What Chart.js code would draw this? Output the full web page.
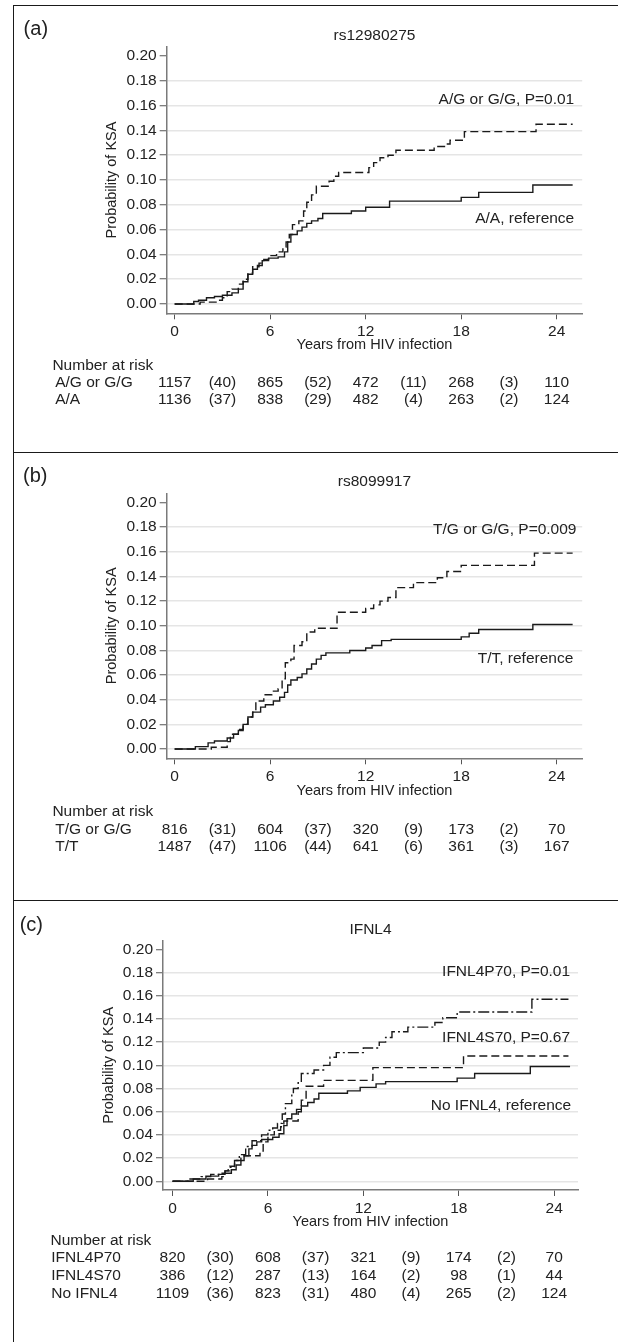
<!DOCTYPE html>
<html>
<head>
<meta charset="utf-8">
<title>Probability of KSA by genotype</title>
<script src="https://cdn.jsdelivr.net/npm/chart.js@4.4.1/dist/chart.umd.min.js"></script>
<style>
  html, body { margin: 0; padding: 0; background: #fff; }
  #page { position: relative; width: 618px; height: 1342px; overflow: hidden; }
  #page canvas { position: absolute; left: 0; }
  .rule { position: absolute; background: #1a1a1a; }
</style>
</head>
<body>
<div id="page">
  <canvas id="panelA" width="618" height="447" style="top:5px"></canvas>
  <canvas id="panelB" width="618" height="448" style="top:452px"></canvas>
  <canvas id="panelC" width="618" height="442" style="top:900px"></canvas>
  <div class="rule" style="left:13px;top:5px;width:1px;height:1337px"></div>
  <div class="rule" style="left:13px;top:5px;width:605px;height:1px"></div>
  <div class="rule" style="left:13px;top:452px;width:605px;height:1px"></div>
  <div class="rule" style="left:13px;top:900px;width:605px;height:1px"></div>
</div>
<script>
// Ejes comunes
var xTicks = [0, 6, 12, 18, 24];
var yTicks = [0, 0.02, 0.04, 0.06, 0.08, 0.10, 0.12, 0.14, 0.16, 0.18, 0.20];
var riskYears = [0, 6, 12, 18, 24];
var eventYears = [3, 9, 15, 21];

// (a) rs12980275 - curvas (tiempo en anos, probabilidad)
var aRefT = [0, 1.2, 1.5, 2.0, 2.5, 3.0, 3.6, 4.0, 4.3, 4.6, 4.9, 5.2, 5.5, 5.9, 6.5, 6.9, 7.1, 7.3, 7.7, 8.0, 8.3, 8.6, 9.0, 9.3, 11.1, 12.0, 13.5, 18.0, 19.1, 22.5, 25.0];
var aRefP = [0, .002, .003, .005, .006, .007, .009, .012, .018, .024, .028, .031, .035, .037, .038, .042, .050, .056, .059, .062, .065, .067, .069, .073, .075, .078, .083, .086, .090, .096, .096];
var aAltT = [0, 1.6, 2.6, 3.0, 3.3, 3.6, 4.0, 4.3, 4.6, 4.9, 5.3, 5.6, 5.9, 6.4, 6.8, 7.0, 7.2, 7.4, 7.8, 8.1, 8.3, 8.6, 8.9, 9.7, 10.0, 10.3, 12.2, 12.5, 12.9, 13.4, 13.9, 16.3, 17.0, 17.3, 18.2, 22.7, 25.0];
var aAltP = [0, .0015, .003, .005, .010, .012, .016, .020, .025, .030, .033, .036, .039, .042, .046, .050, .056, .064, .067, .075, .082, .088, .095, .099, .103, .106, .110, .114, .118, .120, .124, .127, .129, .132, .139, .145, .145];
var aAltRisk = [1157, 865, 472, 268, 110];
var aAltEvents = [40, 52, 11, 3];
var aRefRisk = [1136, 838, 482, 263, 124];
var aRefEvents = [37, 29, 4, 2];

// (b) rs8099917
var bRefT = [0, 1.3, 2.1, 2.5, 3.3, 3.7, 4.0, 4.3, 4.6, 4.9, 5.4, 5.7, 6.2, 6.6, 6.9, 7.1, 7.3, 7.7, 8.0, 8.3, 8.6, 8.9, 9.2, 9.5, 11.0, 12.0, 12.4, 13.0, 13.6, 18.0, 18.5, 19.1, 22.5, 25.0];
var bRefP = [0, .002, .005, .0065, .009, .012, .015, .020, .026, .030, .034, .036, .039, .042, .046, .052, .056, .058, .061, .065, .069, .073, .076, .078, .080, .082, .084, .088, .089, .091, .094, .097, .101, .101];
var bAltT = [0, 2.3, 3.3, 3.5, 4.0, 4.3, 4.6, 4.9, 5.1, 5.6, 6.1, 6.5, 6.75, 6.95, 7.3, 7.5, 8.0, 8.3, 8.8, 10.2, 12.0, 12.5, 12.9, 13.4, 13.9, 15.0, 16.5, 17.1, 18.0, 22.6, 25.0];
var bAltP = [0, .0015, .006, .012, .016, .020, .026, .030, .039, .044, .047, .049, .057, .070, .073, .084, .087, .095, .098, .111, .114, .117, .120, .123, .131, .135, .139, .144, .149, .159, .159];
var bAltRisk = [816, 604, 320, 173, 70];
var bAltEvents = [31, 37, 9, 2];
var bRefRisk = [1487, 1106, 641, 361, 167];
var bRefEvents = [47, 44, 6, 3];

// (c) IFNL4
var cP70T = [0, 1.1, 1.8, 2.4, 3.0, 3.3, 3.5, 3.9, 4.2, 4.6, 5.0, 5.6, 6.0, 6.3, 6.6, 6.9, 7.1, 7.5, 7.6, 7.9, 8.1, 8.9, 9.5, 9.9, 10.3, 12.0, 13.0, 13.4, 13.8, 14.8, 16.5, 17.0, 17.9, 22.6, 24.9];
var cP70P = [0, .002, .004, .006, .007, .009, .012, .018, .023, .030, .035, .040, .044, .046, .050, .058, .067, .075, .080, .085, .093, .096, .100, .107, .111, .115, .120, .124, .129, .133, .137, .141, .146, .157, .157];
var cS70T = [0, 2.2, 3.1, 3.3, 3.6, 3.9, 4.3, 4.5, 5.5, 5.7, 6.0, 6.4, 6.8, 7.0, 7.9, 8.1, 8.4, 9.5, 12.6, 18.3, 24.9];
var cS70P = [0, .002, .004, .009, .013, .018, .020, .022, .026, .034, .040, .044, .047, .052, .060, .070, .082, .087, .098, .108, .108];
var cRefT = [0, 1.3, 2.1, 2.9, 3.3, 3.7, 4.0, 4.3, 4.5, 4.8, 5.0, 5.3, 5.6, 6.3, 6.7, 7.0, 7.2, 7.5, 7.8, 8.1, 8.5, 8.9, 9.2, 11.0, 11.8, 12.8, 13.4, 17.9, 19.0, 22.5, 25.0];
var cRefP = [0, .002, .0045, .006, .007, .010, .014, .018, .022, .028, .031, .034, .036, .038, .041, .048, .054, .058, .062, .065, .068, .071, .076, .078, .081, .084, .086, .089, .093, .099, .099];
var cP70Risk = [820, 608, 321, 174, 70];
var cP70Events = [30, 37, 9, 2];
var cS70Risk = [386, 287, 164, 98, 44];
var cS70Events = [12, 13, 2, 1];
var cRefRisk = [1109, 823, 480, 265, 124];
var cRefEvents = [36, 31, 4, 2];

var FONT = '"Liberation Sans", Arial, Helvetica, sans-serif';
var INK = '#222';
var DASH = [8, 4];
var DASHDOT = [11, 3, 2, 3];
var SOLID = [];

Chart.defaults.font.family = FONT;
Chart.defaults.color = INK;

// textos: etiqueta del panel, titulo, rotulos de curvas y tabla "Number at risk"
var panelText = {
    id: 'panelText',
    afterDraw: function(chart, args, o) {
        var ctx = chart.ctx;
        var area = chart.chartArea;
        var x = chart.scales.x;
        var y = chart.scales.y;
        ctx.save();
        ctx.fillStyle = INK;
        ctx.textBaseline = 'middle';

        ctx.font = '20px ' + FONT;
        ctx.textAlign = 'left';
        ctx.fillText(o.tag, o.tagX, o.tagY);

        ctx.font = '15.5px ' + FONT;
        ctx.textAlign = 'center';
        ctx.fillText(o.title, (area.left + area.right) / 2, o.titleY);

        ctx.textAlign = 'right';
        o.labels.forEach(function(l) {
            ctx.fillText(l.text, x.getPixelForValue(l.t), y.getPixelForValue(l.p));
        });

        ctx.textAlign = 'left';
        ctx.fillText('Number at risk', o.riskLeft, area.bottom + o.riskTop);
        o.rows.forEach(function(r, i) {
            var yy = area.bottom + o.rowTops[i];
            ctx.textAlign = 'left';
            ctx.fillText(r.name, o.rowLeft, yy);
            ctx.textAlign = 'center';
            r.risk.forEach(function(n, k) {
                ctx.fillText(String(n), x.getPixelForValue(riskYears[k]), yy);
            });
            r.events.forEach(function(n, k) {
                ctx.fillText('(' + n + ')', x.getPixelForValue(eventYears[k]), yy);
            });
        });
        ctx.restore();
    }
};

function curve(ts, ps, dash) {
    return {
        data: ts.map(function(t, i) { return {x: t, y: ps[i]}; }),
        borderColor: '#1a1a1a',
        borderWidth: 1.4,
        borderDash: dash,
        stepped: true,
        pointRadius: 0,
        fill: false
    };
}

function buildPanel(id, p) {
    var canvas = document.getElementById(id);
    var config = {
        type: 'line',
        data: { datasets: p.curves },
        options: {
            responsive: false,
            animation: false,
            devicePixelRatio: 1,
            layout: { padding: { left: 0, top: p.area.top, right: canvas.width - p.area.right, bottom: 0 } },
            plugins: {
                legend: { display: false },
                tooltip: { enabled: false },
                panelText: p.text
            },
            scales: {
                x: {
                    type: 'linear',
                    min: p.xMin,
                    max: p.xMax,
                    afterFit: function(s) { s.height = canvas.height - p.area.bottom; },
                    afterBuildTicks: function(s) { s.ticks = xTicks.map(function(v) { return {value: v}; }); },
                    grid: { drawOnChartArea: false, drawTicks: true, tickLength: 6, tickColor: '#555', tickWidth: 1 },
                    border: { color: '#7a7a7a', width: 1.5 },
                    ticks: { autoSkip: false, maxRotation: 0, padding: 3, color: INK, font: { size: 15.5 },
                             callback: function(v) { return String(v); } },
                    title: { display: true, text: 'Years from HIV infection', color: INK, font: { size: 14.5 },
                             padding: { top: 0, bottom: p.xTitlePad } }
                },
                y: {
                    type: 'linear',
                    min: -0.0075,
                    max: 0.2075,
                    afterFit: function(s) { s.width = p.area.left; },
                    afterBuildTicks: function(s) { s.ticks = yTicks.map(function(v) { return {value: v}; }); },
                    grid: {
                        color: function(c) { return c.tick && c.tick.value > 0.199 ? 'rgba(0,0,0,0)' : '#e5e5e5'; },
                        lineWidth: 1.5,
                        tickLength: 7,
                        tickColor: '#555',
                        tickWidth: 1
                    },
                    border: { color: '#7a7a7a', width: 1.5 },
                    ticks: { padding: 3, color: INK, font: { size: 15.5 },
                             callback: function(v) { return Number(v).toFixed(2); } },
                    title: { display: true, text: 'Probability of KSA', color: INK, font: { size: 14.5 },
                             padding: { top: p.yTitlePad, bottom: 0 } }
                }
            }
        },
        plugins: [panelText]
    };
    return new Chart(canvas, config);
}

document.addEventListener('DOMContentLoaded', function() {
    buildPanel('panelA', {
        area: { left: 166.7, right: 582.2, top: 41.7, bottom: 308.3 },
        xMin: -0.5, xMax: 25.6, yTitlePad: 103.3, xTitlePad: 98.3,
        curves: [curve(aAltT, aAltP, DASH), curve(aRefT, aRefP, SOLID)],
        text: {
            tag: '(a)', tagX: 23.6, tagY: 24, title: 'rs12980275', titleY: 31,
            labels: [
                { text: 'A/G or G/G, P=0.01', t: 25.1, p: 0.165 },
                { text: 'A/A, reference', t: 25.1, p: 0.069 }
            ],
            riskLeft: 52.4, riskTop: 52.7, rowLeft: 55.2, rowTops: [69.4, 86.7],
            rows: [
                { name: 'A/G or G/G', risk: aAltRisk, events: aAltEvents },
                { name: 'A/A', risk: aRefRisk, events: aRefEvents }
            ]
        }
    });

    buildPanel('panelB', {
        area: { left: 166.7, right: 582.2, top: 41.3, bottom: 306.3 },
        xMin: -0.5, xMax: 25.6, yTitlePad: 102.8, xTitlePad: 100.3,
        curves: [curve(bAltT, bAltP, DASH), curve(bRefT, bRefP, SOLID)],
        text: {
            tag: '(b)', tagX: 23, tagY: 24, title: 'rs8099917', titleY: 29.7,
            labels: [
                { text: 'T/G or G/G, P=0.009', t: 25.24, p: 0.178 },
                { text: 'T/T, reference', t: 25.04, p: 0.0735 }
            ],
            riskLeft: 52.4, riskTop: 53.4, rowLeft: 55.2, rowTops: [71, 88.4],
            rows: [
                { name: 'T/G or G/G', risk: bAltRisk, events: bAltEvents },
                { name: 'T/T', risk: bRefRisk, events: bRefEvents }
            ]
        }
    });

    buildPanel('panelC', {
        area: { left: 163, right: 578, top: 40.7, bottom: 290 },
        xMin: -0.6, xMax: 25.5, yTitlePad: 100.1, xTitlePad: 111.6,
        curves: [curve(cP70T, cP70P, DASHDOT), curve(cS70T, cS70P, DASH), curve(cRefT, cRefP, SOLID)],
        text: {
            tag: '(c)', tagX: 19.7, tagY: 25, title: 'IFNL4', titleY: 29.3,
            labels: [
                { text: 'IFNL4P70, P=0.01', t: 25.0, p: 0.1807 },
                { text: 'IFNL4S70, P=0.67', t: 25.0, p: 0.124 },
                { text: 'No IFNL4, reference', t: 25.07, p: 0.0656 }
            ],
            riskLeft: 50.5, riskTop: 50.7, rowLeft: 51.2, rowTops: [67.3, 86, 104],
            rows: [
                { name: 'IFNL4P70', risk: cP70Risk, events: cP70Events },
                { name: 'IFNL4S70', risk: cS70Risk, events: cS70Events },
                { name: 'No IFNL4', risk: cRefRisk, events: cRefEvents }
            ]
        }
    });
});
</script>
</body>
</html>
